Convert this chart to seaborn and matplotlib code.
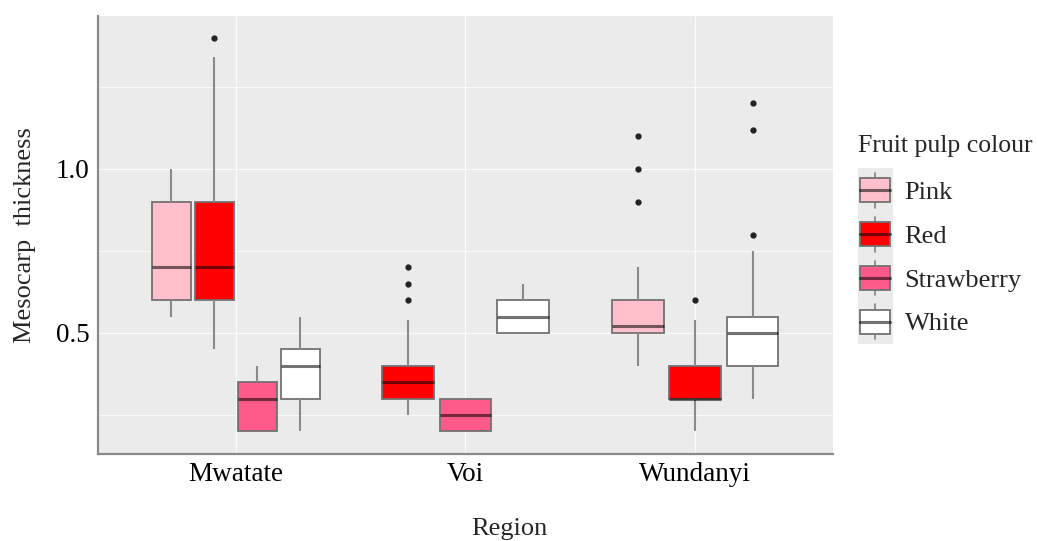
import pandas as pd
import seaborn as sns
import matplotlib.pyplot as plt
from matplotlib.patches import Patch, Rectangle
from matplotlib.lines import Line2D
from matplotlib.legend_handler import HandlerBase

regions = ["Mwatate", "Voi", "Wundanyi"]
colours = ["Pink", "Red", "Strawberry", "White"]
palette = {"Pink": "#FFC0CB", "Red": "#FF0000", "Strawberry": "#FF5A8A", "White": "#FFFFFF"}

# mesocarp thickness measurements, per region and pulp colour
mwatate_pink = [0.55, 0.6, 0.6, 0.7, 0.9, 0.9, 1.0]
mwatate_red = [0.45, 0.55, 0.6, 0.65, 0.7, 0.8, 0.9, 1.34, 1.4]
mwatate_strawberry = [0.2, 0.2, 0.3, 0.35, 0.4]
mwatate_white = [0.2, 0.3, 0.4, 0.45, 0.55]
voi_red = [0.25, 0.3, 0.3, 0.3, 0.3, 0.35, 0.35, 0.35, 0.35,
           0.4, 0.4, 0.4, 0.4, 0.54, 0.6, 0.65, 0.7]
voi_strawberry = [0.2, 0.2, 0.25, 0.3, 0.3]
voi_white = [0.5, 0.5, 0.55, 0.6, 0.65]
wundanyi_pink = [0.4, 0.45, 0.5, 0.5, 0.5, 0.5, 0.52, 0.52, 0.52,
                 0.55, 0.6, 0.6, 0.6, 0.7, 0.9, 1.0, 1.1]
wundanyi_red = [0.2, 0.3, 0.3, 0.3, 0.3, 0.35, 0.4, 0.54, 0.6]
wundanyi_white = [0.3, 0.35, 0.4, 0.4, 0.4, 0.45, 0.45, 0.5, 0.5,
                  0.5, 0.55, 0.55, 0.55, 0.75, 0.8, 1.12, 1.2]

groups = {
    ("Mwatate", "Pink"): mwatate_pink,
    ("Mwatate", "Red"): mwatate_red,
    ("Mwatate", "Strawberry"): mwatate_strawberry,
    ("Mwatate", "White"): mwatate_white,
    ("Voi", "Red"): voi_red,
    ("Voi", "Strawberry"): voi_strawberry,
    ("Voi", "White"): voi_white,
    ("Wundanyi", "Pink"): wundanyi_pink,
    ("Wundanyi", "Red"): wundanyi_red,
    ("Wundanyi", "White"): wundanyi_white,
}
rows = []
for (reg, col), vals in groups.items():
    for v in vals:
        rows.append({"Region": reg, "Fruit": col, "Thickness": v})
df = pd.DataFrame(rows)

sns.set_theme(style="darkgrid", rc={"axes.facecolor": "#EBEBEB", "grid.color": "white"})
plt.rcParams["font.family"] = ["Liberation Serif", "DejaVu Serif"]

EDGE = "#727272"

fig, ax = plt.subplots(figsize=(10.38, 5.41), dpi=100)
fig.subplots_adjust(left=0.0944, right=0.8025, bottom=0.1608, top=0.9704)

# one call per region so that missing colours don't leave gaps (like ggplot dodge2)
for reg in regions:
    sub = df[df["Region"] == reg]
    present = [c for c in colours if c in set(sub["Fruit"])]
    sns.boxplot(data=sub, x="Region", y="Thickness", hue="Fruit",
                order=regions, hue_order=present, palette=palette,
                saturation=1, width=0.75, gap=0.1, linecolor=EDGE, linewidth=1.3,
                showcaps=False, legend=False, ax=ax,
                medianprops={"color": (0, 0, 0, 0.55), "linewidth": 2.2},
                whiskerprops={"color": "#8a8a8a", "linewidth": 1.5},
                flierprops={"marker": "o", "markerfacecolor": "#222222",
                            "markeredgecolor": "#222222", "markersize": 3.5})

ax.set_xlim(-0.6, 2.6)
ax.set_ylim(0.131, 1.466)
ax.set_yticks([0.5, 1.0])
ax.set_yticklabels(["0.5", "1.0"])
ax.set_yticks([0.25, 0.75, 1.25], minor=True)
ax.grid(which="major", color="white", linewidth=0.9, alpha=0.85)
ax.grid(which="minor", axis="y", color="white", linewidth=0.7, alpha=0.85)
ax.tick_params(which="minor", length=0)
ax.tick_params(which="major", length=3, color="#666666", labelsize=19.5, labelcolor="black", pad=3)

for s in ["top", "right"]:
    ax.spines[s].set_visible(False)
for s in ["left", "bottom"]:
    ax.spines[s].set_visible(True)
    ax.spines[s].set_color("#8a8a8a")
    ax.spines[s].set_linewidth(1.6)

ax.set_xlabel("Region", fontsize=19, va="top")
ax.xaxis.set_label_coords(0.559, -0.147)
ax.set_ylabel("Mesocarp  thickness", fontsize=19, labelpad=14)


class BoxKey(HandlerBase):
    def create_artists(self, legend, orig_handle, xdescent, ydescent,
                       width, height, fontsize, trans):
        fc = orig_handle.get_facecolor()
        g = legend.labelspacing * fontsize / 2
        bg = Rectangle((-xdescent, -ydescent - g), width, height + 2 * g,
                       facecolor="#EBEBEB", edgecolor="none", transform=trans)
        bw = width * 0.86
        x0 = -xdescent + (width - bw) / 2
        bh = height * 0.68
        y0 = -ydescent + (height - bh) / 2
        cx = -xdescent + width / 2
        w1 = Line2D([cx, cx], [-ydescent, y0], color="#8a8a8a", lw=1.3, transform=trans)
        w2 = Line2D([cx, cx], [y0 + bh, -ydescent + height], color="#8a8a8a", lw=1.3, transform=trans)
        box = Rectangle((x0, y0), bw, bh, facecolor=fc, edgecolor=EDGE, lw=1.3, transform=trans)
        med = Line2D([x0, x0 + bw], [y0 + bh / 2] * 2, color=(0, 0, 0, 0.55), lw=2.2, transform=trans)
        return [bg, w1, w2, box, med]


handles = [Patch(facecolor=palette[c], label=c) for c in colours]
leg = fig.legend(handles=handles, title="Fruit pulp colour", loc="upper left",
                 bbox_to_anchor=(0.8134, 0.774), frameon=False, fontsize=19,
                 title_fontsize=18.5, handlelength=1.33, handleheight=1.66,
                 handletextpad=0.45, labelspacing=0.34, borderpad=0,
                 alignment="left", handler_map={Patch: BoxKey()})
# a bit more room between the legend title and the keys
leg._legend_box.sep += 4.5

fig.savefig("out.png", dpi=100)
